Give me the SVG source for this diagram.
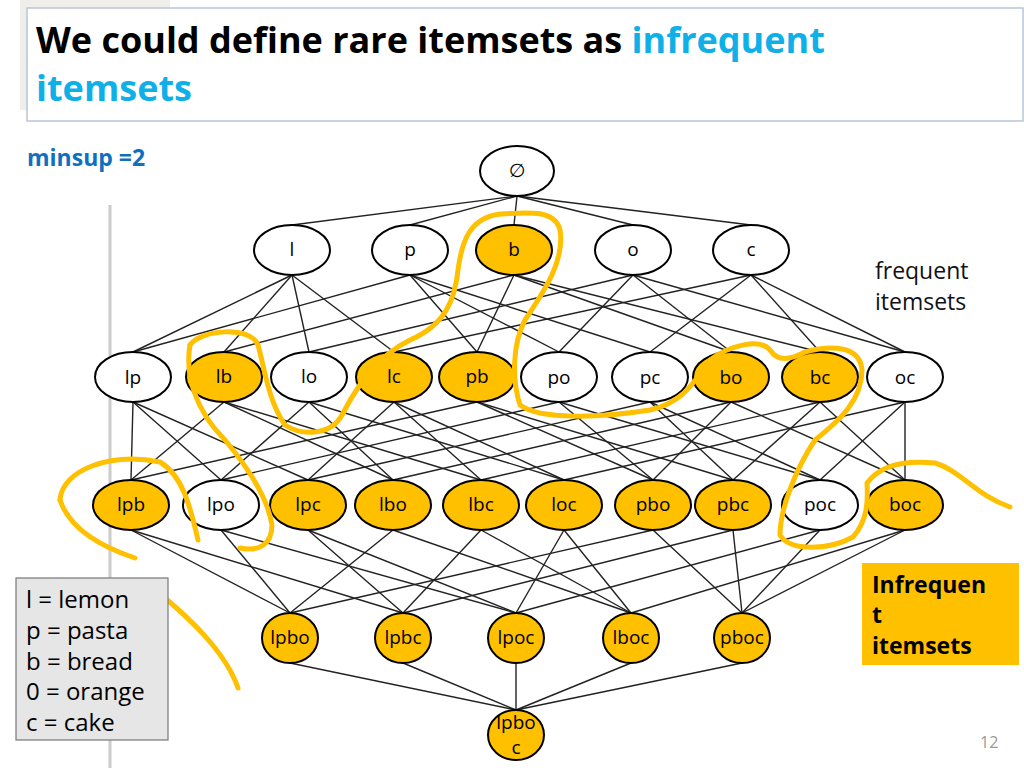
<svg xmlns="http://www.w3.org/2000/svg" width="1024" height="768" viewBox="0 0 1024 768">
<style>
.n{stroke:#000;stroke-width:2}
.w{fill:#fff}
.y{fill:#FFC000}
.t{font-family:"Open Sans","DejaVu Sans",sans-serif;font-size:19px;text-anchor:middle;fill:#000}
#edges line{stroke:#222;stroke-width:1.4}
.hl{fill:none;stroke:#FFC000;stroke-width:5;stroke-linecap:round;stroke-linejoin:round}
</style>
<rect width="1024" height="768" fill="#fff"/>
<rect x="20" y="0" width="150" height="110" fill="#f0eeea"/>
<line x1="110" y1="205" x2="110" y2="768" stroke="#ccc" stroke-width="3"/>
<rect x="27" y="8" width="996" height="113" fill="#fff" stroke="#b8c6d6" stroke-width="1.5"/>
<text x="36" y="53" font-family="'Open Sans','DejaVu Sans',sans-serif" font-weight="bold" font-size="36" fill="#000">We could define rare itemsets as <tspan fill="#0FB0E8">infrequent</tspan></text>
<text x="36" y="101" font-family="'Open Sans','DejaVu Sans',sans-serif" font-weight="bold" font-size="36" fill="#0FB0E8">itemsets</text>
<text x="27" y="166" font-family="'Open Sans','DejaVu Sans',sans-serif" font-weight="bold" font-size="23" fill="#1070C0">minsup =2</text>
<text font-family="'Open Sans','DejaVu Sans',sans-serif" font-size="23" fill="#111"><tspan x="875" y="279">frequent</tspan><tspan x="875" y="310">itemsets</tspan></text>
<g id="edges">
<line x1="517" y1="196" x2="292" y2="225"/><line x1="517" y1="196" x2="410" y2="225"/><line x1="517" y1="196" x2="514" y2="225"/><line x1="517" y1="196" x2="633" y2="225"/><line x1="517" y1="196" x2="751" y2="225"/>
<line x1="133" y1="352" x2="292" y2="275"/><line x1="133" y1="352" x2="410" y2="275"/>
<line x1="224" y1="352" x2="292" y2="275"/><line x1="224" y1="352" x2="514" y2="275"/>
<line x1="309" y1="352" x2="292" y2="275"/><line x1="309" y1="352" x2="633" y2="275"/>
<line x1="394" y1="352" x2="292" y2="275"/><line x1="394" y1="352" x2="751" y2="275"/>
<line x1="477" y1="352" x2="410" y2="275"/><line x1="477" y1="352" x2="514" y2="275"/>
<line x1="559" y1="352" x2="410" y2="275"/><line x1="559" y1="352" x2="633" y2="275"/>
<line x1="650" y1="352" x2="410" y2="275"/><line x1="650" y1="352" x2="751" y2="275"/>
<line x1="731" y1="352" x2="514" y2="275"/><line x1="731" y1="352" x2="633" y2="275"/>
<line x1="820" y1="352" x2="514" y2="275"/><line x1="820" y1="352" x2="751" y2="275"/>
<line x1="905" y1="352" x2="633" y2="275"/><line x1="905" y1="352" x2="751" y2="275"/>
<line x1="131" y1="480" x2="133" y2="402"/><line x1="131" y1="480" x2="224" y2="402"/><line x1="131" y1="480" x2="477" y2="402"/>
<line x1="221" y1="480" x2="133" y2="402"/><line x1="221" y1="480" x2="309" y2="402"/><line x1="221" y1="480" x2="559" y2="402"/>
<line x1="308" y1="480" x2="133" y2="402"/><line x1="308" y1="480" x2="394" y2="402"/><line x1="308" y1="480" x2="650" y2="402"/>
<line x1="393" y1="480" x2="224" y2="402"/><line x1="393" y1="480" x2="309" y2="402"/><line x1="393" y1="480" x2="731" y2="402"/>
<line x1="481" y1="480" x2="224" y2="402"/><line x1="481" y1="480" x2="394" y2="402"/><line x1="481" y1="480" x2="820" y2="402"/>
<line x1="564" y1="480" x2="309" y2="402"/><line x1="564" y1="480" x2="394" y2="402"/><line x1="564" y1="480" x2="905" y2="402"/>
<line x1="653" y1="480" x2="477" y2="402"/><line x1="653" y1="480" x2="559" y2="402"/><line x1="653" y1="480" x2="731" y2="402"/>
<line x1="733" y1="480" x2="477" y2="402"/><line x1="733" y1="480" x2="650" y2="402"/><line x1="733" y1="480" x2="820" y2="402"/>
<line x1="820" y1="480" x2="559" y2="402"/><line x1="820" y1="480" x2="650" y2="402"/><line x1="820" y1="480" x2="905" y2="402"/>
<line x1="905" y1="480" x2="731" y2="402"/><line x1="905" y1="480" x2="820" y2="402"/><line x1="905" y1="480" x2="905" y2="402"/>
<line x1="290" y1="613" x2="131" y2="530"/><line x1="290" y1="613" x2="221" y2="530"/><line x1="290" y1="613" x2="393" y2="530"/><line x1="290" y1="613" x2="653" y2="530"/>
<line x1="403" y1="613" x2="131" y2="530"/><line x1="403" y1="613" x2="308" y2="530"/><line x1="403" y1="613" x2="481" y2="530"/><line x1="403" y1="613" x2="733" y2="530"/>
<line x1="516" y1="613" x2="221" y2="530"/><line x1="516" y1="613" x2="308" y2="530"/><line x1="516" y1="613" x2="564" y2="530"/><line x1="516" y1="613" x2="820" y2="530"/>
<line x1="631" y1="613" x2="393" y2="530"/><line x1="631" y1="613" x2="481" y2="530"/><line x1="631" y1="613" x2="564" y2="530"/><line x1="631" y1="613" x2="905" y2="530"/>
<line x1="742" y1="613" x2="653" y2="530"/><line x1="742" y1="613" x2="733" y2="530"/><line x1="742" y1="613" x2="820" y2="530"/><line x1="742" y1="613" x2="905" y2="530"/>
<line x1="516" y1="710" x2="290" y2="663"/><line x1="516" y1="710" x2="403" y2="663"/><line x1="516" y1="710" x2="516" y2="663"/><line x1="516" y1="710" x2="631" y2="663"/><line x1="516" y1="710" x2="742" y2="663"/>
</g>
<g id="n-empty"><ellipse class="n w" cx="517" cy="171" rx="37" ry="25"/><text class="t" x="517" y="177" font-size="16">∅</text></g>
<g id="n-l"><ellipse class="n w" cx="292" cy="250" rx="38" ry="25"/><text class="t" x="292" y="256">l</text></g>
<g id="n-p"><ellipse class="n w" cx="410" cy="250" rx="38" ry="25"/><text class="t" x="410" y="256">p</text></g>
<g id="n-b"><ellipse class="n y" cx="514" cy="250" rx="38" ry="25"/><text class="t" x="514" y="256">b</text></g>
<g id="n-o"><ellipse class="n w" cx="633" cy="250" rx="38" ry="25"/><text class="t" x="633" y="256">o</text></g>
<g id="n-c"><ellipse class="n w" cx="751" cy="250" rx="38" ry="25"/><text class="t" x="751" y="256">c</text></g>
<g id="n-lp"><ellipse class="n w" cx="133" cy="377" rx="38" ry="25"/><text class="t" x="133" y="384">lp</text></g>
<g id="n-lb"><ellipse class="n y" cx="224" cy="377" rx="38" ry="25"/><text class="t" x="224" y="383">lb</text></g>
<g id="n-lo"><ellipse class="n w" cx="309" cy="377" rx="38" ry="25"/><text class="t" x="309" y="383">lo</text></g>
<g id="n-lc"><ellipse class="n y" cx="394" cy="377" rx="38" ry="25"/><text class="t" x="394" y="383">lc</text></g>
<g id="n-pb"><ellipse class="n y" cx="477" cy="377" rx="38" ry="25"/><text class="t" x="477" y="383">pb</text></g>
<g id="n-po"><ellipse class="n w" cx="559" cy="377" rx="38" ry="25"/><text class="t" x="559" y="384">po</text></g>
<g id="n-pc"><ellipse class="n w" cx="650" cy="377" rx="38" ry="25"/><text class="t" x="650" y="384">pc</text></g>
<g id="n-bo"><ellipse class="n y" cx="731" cy="377" rx="38" ry="25"/><text class="t" x="731" y="384">bo</text></g>
<g id="n-bc"><ellipse class="n y" cx="820" cy="377" rx="38" ry="25"/><text class="t" x="820" y="384">bc</text></g>
<g id="n-oc"><ellipse class="n w" cx="905" cy="377" rx="38" ry="25"/><text class="t" x="905" y="384">oc</text></g>
<g id="n-lpb"><ellipse class="n y" cx="131" cy="505" rx="38" ry="25"/><text class="t" x="131" y="511">lpb</text></g>
<g id="n-lpo"><ellipse class="n w" cx="221" cy="505" rx="38" ry="25"/><text class="t" x="221" y="511">lpo</text></g>
<g id="n-lpc"><ellipse class="n y" cx="308" cy="505" rx="38" ry="25"/><text class="t" x="308" y="511">lpc</text></g>
<g id="n-lbo"><ellipse class="n y" cx="393" cy="505" rx="38" ry="25"/><text class="t" x="393" y="511">lbo</text></g>
<g id="n-lbc"><ellipse class="n y" cx="481" cy="505" rx="38" ry="25"/><text class="t" x="481" y="511">lbc</text></g>
<g id="n-loc"><ellipse class="n y" cx="564" cy="505" rx="38" ry="25"/><text class="t" x="564" y="511">loc</text></g>
<g id="n-pbo"><ellipse class="n y" cx="653" cy="505" rx="38" ry="25"/><text class="t" x="653" y="511">pbo</text></g>
<g id="n-pbc"><ellipse class="n y" cx="733" cy="505" rx="38" ry="25"/><text class="t" x="733" y="511">pbc</text></g>
<g id="n-poc"><ellipse class="n w" cx="820" cy="505" rx="38" ry="25"/><text class="t" x="820" y="511">poc</text></g>
<g id="n-boc"><ellipse class="n y" cx="905" cy="505" rx="38" ry="25"/><text class="t" x="905" y="511">boc</text></g>
<g id="n-lpbo"><ellipse class="n y" cx="290" cy="638" rx="28" ry="25"/><text class="t" x="290" y="644">lpbo</text></g>
<g id="n-lpbc"><ellipse class="n y" cx="403" cy="638" rx="28" ry="25"/><text class="t" x="403" y="644">lpbc</text></g>
<g id="n-lpoc"><ellipse class="n y" cx="516" cy="638" rx="28" ry="25"/><text class="t" x="516" y="644">lpoc</text></g>
<g id="n-lboc"><ellipse class="n y" cx="631" cy="638" rx="28" ry="25"/><text class="t" x="631" y="644">lboc</text></g>
<g id="n-pboc"><ellipse class="n y" cx="742" cy="638" rx="28" ry="25"/><text class="t" x="742" y="644">pboc</text></g>
<g id="n-lpboc"><ellipse class="n y" cx="516" cy="735" rx="28" ry="25"/><text class="t" x="516" y="729">lpbo</text><text class="t" x="516" y="754">c</text></g>
<g id="highlights">
<path class="hl" d="M190,345 C200,330 250,325 258,345 C265,370 268,400 285,425 C300,435 330,437 342,415 C360,380 380,355 410,340 C445,325 455,300 458,270 C462,240 470,218 500,214 C530,212 555,210 560,230 C565,260 545,290 525,320 C512,345 512,380 520,405 C540,420 600,418 650,410 C685,402 695,380 710,360 C730,345 760,338 770,350 C778,362 790,360 805,352 C830,345 860,345 862,370 C862,400 840,420 815,440 C795,470 780,510 780,535 C790,552 830,550 853,537 C868,520 868,500 867,483 C880,465 905,460 935,463 C960,470 975,495 1010,507"/>
<path class="hl" d="M190,345 C185,375 195,410 225,440 C250,470 268,500 272,525 C272,545 258,552 240,548"/>
<path class="hl" d="M60,500 C62,470 110,452 160,462 C182,475 190,505 198,540"/>
<path class="hl" d="M60,500 C70,530 105,548 135,558"/>
<path class="hl" d="M165,598 C185,615 225,650 238,688"/>
</g>
<g id="legend">
<rect x="16" y="578" width="152" height="162" fill="#e6e6e6" stroke="#777" stroke-width="1.2"/>
<text font-family="'Open Sans','DejaVu Sans',sans-serif" font-size="24" fill="#000"><tspan x="26" y="608">l = lemon</tspan><tspan x="26" y="639">p = pasta</tspan><tspan x="26" y="670">b = bread</tspan><tspan x="26" y="700">0 = orange</tspan><tspan x="26" y="731">c = cake</tspan></text>
</g>
<g id="infrequent">
<rect x="862" y="563" width="157" height="102" fill="#FFC000"/>
<text font-family="'Open Sans','DejaVu Sans',sans-serif" font-weight="bold" font-size="23" fill="#000"><tspan x="872" y="593">Infrequen</tspan><tspan x="872" y="623">t</tspan><tspan x="872" y="654">itemsets</tspan></text>
</g>
<text x="980" y="748" font-family="'Open Sans','DejaVu Sans',sans-serif" font-size="16" fill="#999">12</text>
</svg>
